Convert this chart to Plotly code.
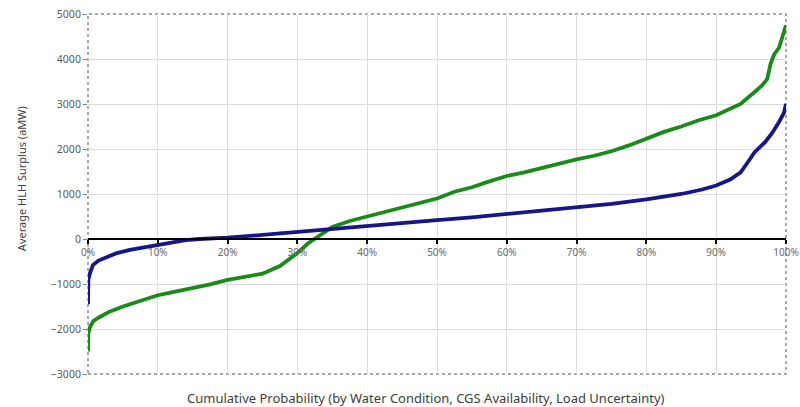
import plotly.graph_objects as go

# Cumulative probability (%) and HLH surplus values (aMW)
blue_p = [0, 0.05, 0.3, 0.7, 1.5, 2.7, 4, 6, 8, 10, 12, 14, 16, 18, 20, 25, 30, 35, 40, 45,
          50, 55, 60, 65, 70, 75, 80, 85, 88, 90, 92, 93.5, 94.5, 95.5, 97, 98, 99, 99.7, 100]
blue_v = [-1450, -900, -750, -580, -480, -400, -320, -240, -190, -130, -80, -25, 0, 15, 30,
          90, 160, 225, 290, 350, 420, 480, 555, 630, 705, 780, 880, 1000, 1100, 1190, 1320,
          1480, 1700, 1930, 2150, 2350, 2600, 2800, 3000]

green_p = [0, 0.05, 0.3, 0.8, 1.5, 3, 5, 7.5, 10, 12.5, 15, 17.5, 20, 22.5, 25, 27.5, 30, 31.5,
           33, 35, 37.5, 40, 42.5, 45, 47.5, 50, 52.5, 55, 57.5, 60, 62.5, 65, 67.5, 70, 72.5,
           75, 77.5, 80, 82.5, 85, 87.5, 90, 92, 93.5, 95, 96.5, 97.3, 97.8, 98.3, 99, 99.5, 100]
green_v = [-2500, -2100, -1950, -1820, -1750, -1620, -1500, -1380, -1250, -1170, -1100, -1010,
           -910, -850, -770, -600, -310, -100, 60, 270, 400, 500, 600, 700, 800, 900, 1050,
           1150, 1280, 1400, 1480, 1580, 1680, 1770, 1850, 1950, 2080, 2240, 2380, 2500, 2640,
           2750, 2880, 3000, 3200, 3400, 3550, 3900, 4100, 4250, 4500, 4750]

x_ticks = [i / 10 for i in range(11)]
x_ticklabels = [f"{i * 10}%" for i in range(11)]

fig = go.Figure()
fig.add_trace(go.Scatter(x=[p / 100 for p in green_p], y=green_v, mode="lines",
                         line=dict(color="#1A8A1A", width=3.8), showlegend=False))
fig.add_trace(go.Scatter(x=[p / 100 for p in blue_p], y=blue_v, mode="lines",
                         line=dict(color="#16168A", width=3.8), showlegend=False))

fig.update_layout(
    width=800, height=407,
    margin=dict(l=88, r=14, t=14, b=33),
    plot_bgcolor="white", paper_bgcolor="white",
    font=dict(family="Noto Sans", color="#595959"),
    xaxis=dict(range=[0, 1], tickvals=x_ticks, ticktext=x_ticklabels,
               anchor="free", position=0.375, automargin=False,
               showline=True, linecolor="black", linewidth=2,
               ticks="outside", ticklen=4, tickwidth=1.5, tickcolor="black",
               showgrid=True, gridcolor="#dcdcdc", gridwidth=1,
               zeroline=False, tickfont=dict(size=10, color="#6a6a6a")),
    yaxis=dict(range=[-3000, 5000], dtick=1000, automargin=False,
               showgrid=True, gridcolor="#dcdcdc", gridwidth=1, zeroline=False,
               ticks="outside", ticklen=4, tickcolor="#808080",
               tickfont=dict(size=10.5, color="#595959")),
    shapes=[dict(type="rect", xref="paper", yref="paper", x0=0, x1=1, y0=0, y1=1,
                 line=dict(color="#8c8c8c", width=1.5, dash="dot"), layer="below")],
    annotations=[
        dict(text="Average HLH Surplus (aMW)", xref="paper", yref="paper",
             x=-0.0960, y=0.544, textangle=-90, showarrow=False,
             font=dict(size=11, color="#404040"), xanchor="center", yanchor="middle"),
        dict(text="Cumulative Probability (by Water Condition, CGS Availability, Load Uncertainty)",
             xref="paper", yref="paper", x=0.484, y=-0.067, showarrow=False,
             font=dict(size=13, color="#404040"), xanchor="center", yanchor="middle"),
    ],
)

fig.write_html("out.html")
